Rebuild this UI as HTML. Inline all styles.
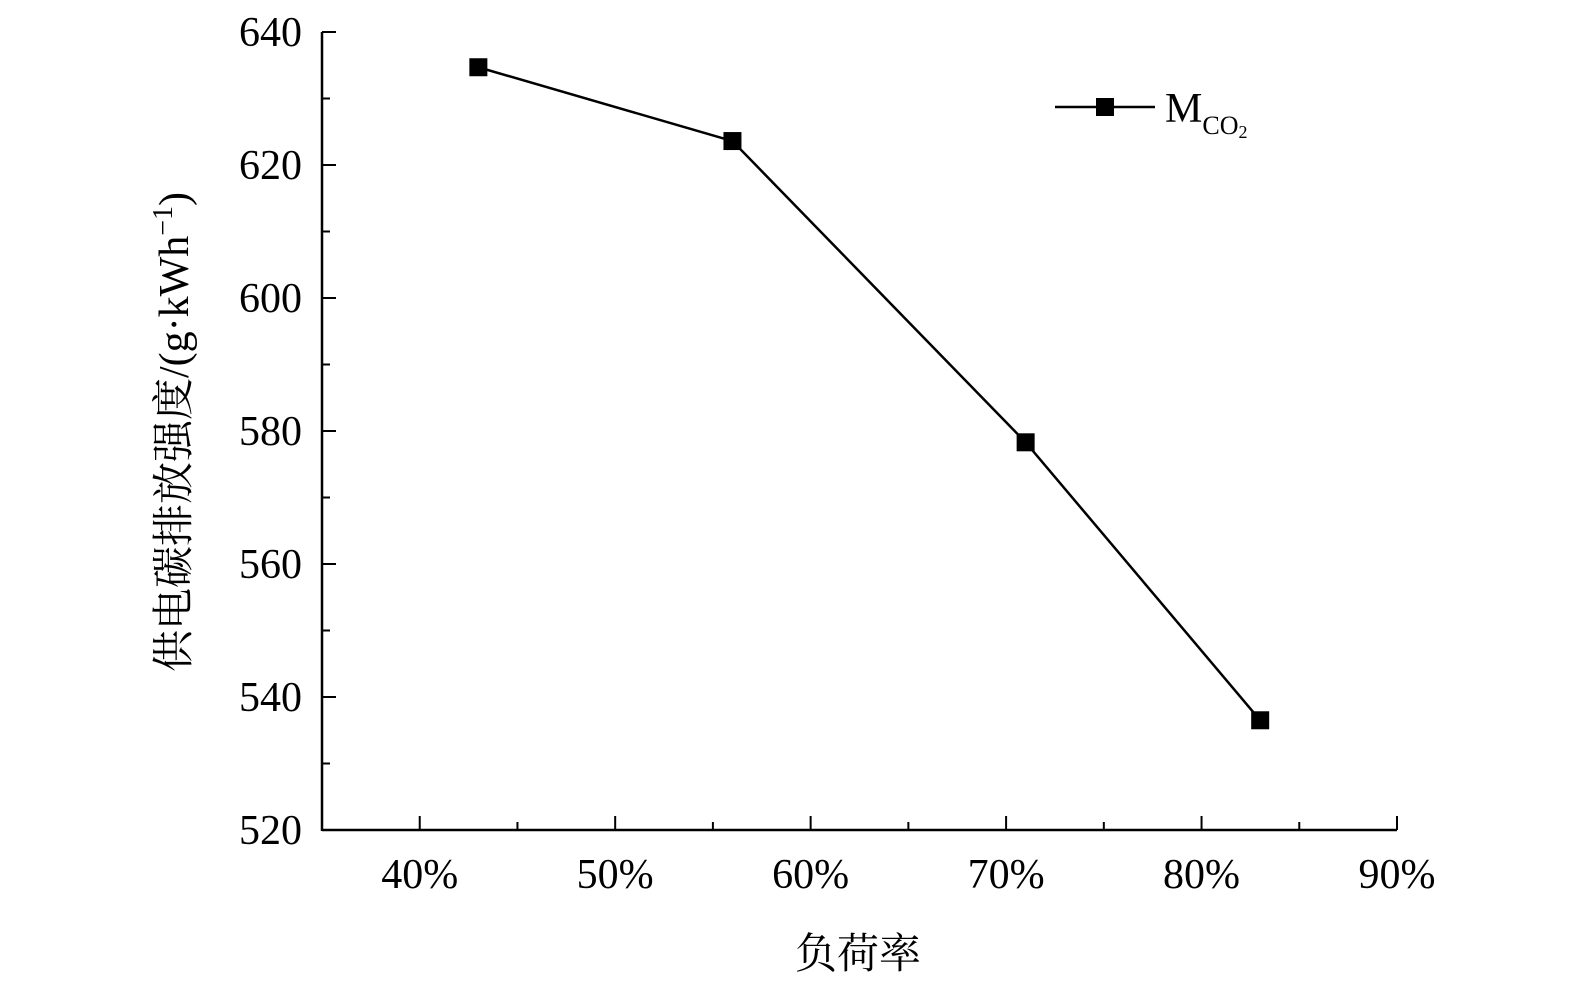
<!DOCTYPE html>
<html><head><meta charset="utf-8">
<style>
html,body{margin:0;padding:0;background:#fff;}
svg{display:block;font-family:"Liberation Serif","Noto Serif CJK SC",serif;}
</style></head>
<body>
<svg id="chart" width="1575" height="994" viewBox="0 0 1575 994" xmlns="http://www.w3.org/2000/svg">
<g id="axes"></g>
<g id="series"></g>
<text transform="translate(188,432) rotate(-90)" text-anchor="middle" font-size="42" fill="#000" font-family="'Liberation Serif','Noto Serif CJK SC',serif">供电碳排放强度/(g·kWh<tspan dy="-16" font-size="28">−1</tspan><tspan dy="16">)</tspan></text>
<text x="858" y="968" text-anchor="middle" font-size="42" fill="#000">负荷率</text>
<g>
<line x1="1055" y1="107" x2="1155" y2="107" stroke="#000" stroke-width="2.5"/>
<rect x="1096" y="98" width="18" height="18" fill="#000"/>
<text x="1165" y="122" font-size="42" fill="#000">M<tspan font-size="26" dy="12">CO</tspan><tspan font-size="18" dy="4">2</tspan></text>
</g>
</svg>
<script>
const xCategories = [43, 56, 71, 83];
const mco2Values = [634.7, 623.6, 578.3, 536.5];
const xTickLabels = ["40%","50%","60%","70%","80%","90%"];
const xTickValues = [40,50,60,70,80,90];
const yTickValues = [520,540,560,580,600,620,640];

const NS="http://www.w3.org/2000/svg";
const X0=322, X1=1397, Y0=830, Y1=32;
const xs=v=>X0+(v-35)/(90-35)*(X1-X0);
const ys=v=>Y0-(v-520)/(640-520)*(Y0-Y1);
function mk(tag,attrs,parent){const e=document.createElementNS(NS,tag);for(const k in attrs)e.setAttribute(k,attrs[k]);parent.appendChild(e);return e;}
const axes=document.getElementById('axes');
let a=mk('line',{x1:X0,y1:Y0,x2:X1,y2:Y0,stroke:'#000','stroke-width':2.5},axes);


a=mk('line',{x1:X0,y1:Y0+1,x2:X0,y2:Y1,stroke:'#000','stroke-width':2.5},axes);


for(let v=40;v<=90;v+=5){
  const major=v%10===0;
  const t=mk('line',{x1:xs(v),y1:Y0,x2:xs(v),y2:Y0-(major?14:8),stroke:'#000','stroke-width':2},axes);
  
  
}
xTickValues.forEach((v,i)=>{
  const t=mk('text',{x:xs(v),y:888,'text-anchor':'middle','font-size':42,fill:'#000'},axes);
  t.textContent=xTickLabels[i];
  
  
});
for(let v=520;v<=640;v+=10){
  const major=v%20===0;
  const t=mk('line',{x1:X0,y1:ys(v),x2:X0+(major?14:8),y2:ys(v),stroke:'#000','stroke-width':2},axes);
  
  
}
yTickValues.forEach(v=>{
  const t=mk('text',{x:302,y:ys(v)+14,'text-anchor':'end','font-size':42,fill:'#000'},axes);
  t.textContent=v;
  
  
});
const series=document.getElementById('series');
const pts=xCategories.map((c,i)=>xs(c)+','+ys(mco2Values[i])).join(' ');
const pl=mk('polyline',{points:pts,fill:'none',stroke:'#000','stroke-width':2.5},series);


xCategories.forEach((c,i)=>{
  const r=mk('rect',{x:xs(c)-9,y:ys(mco2Values[i])-9,width:18,height:18,fill:'#000'},series);
  
  
});
</script>
</body></html>
